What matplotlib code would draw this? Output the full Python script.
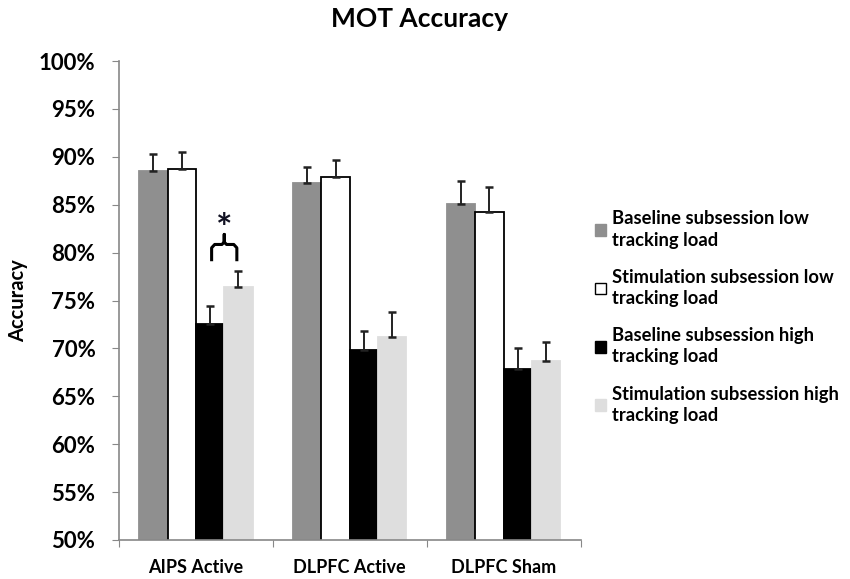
import numpy as np
import matplotlib
matplotlib.use("Agg")
import matplotlib.pyplot as plt
from matplotlib.patches import Patch
from matplotlib.ticker import PercentFormatter

plt.rcParams["font.family"] = ["Lato", "DejaVu Sans"]
plt.rcParams["font.weight"] = "bold"

groups = ["AIPS Active", "DLPFC Active", "DLPFC Sham"]
series = [
    "Baseline subsession low\ntracking load",
    "Stimulation subsession low\ntracking load",
    "Baseline subsession high\ntracking load",
    "Stimulation subsession high\ntracking load",
]
baseline_low = [88.5, 87.3, 85.1]
stim_low = [88.7, 87.9, 84.2]
baseline_high = [72.5, 69.8, 67.8]
stim_high = [76.4, 71.2, 68.7]
err_baseline_low = [1.8, 1.6, 2.4]
err_stim_low = [1.8, 1.8, 2.7]
err_baseline_high = [1.9, 2.0, 2.2]
err_stim_high = [1.7, 2.6, 2.0]

values = [baseline_low, stim_low, baseline_high, stim_high]
errors = [err_baseline_low, err_stim_low, err_baseline_high, err_stim_high]
colors = ["#8f8f8f", "#ffffff", "#000000", "#dedede"]
edges = ["#8f8f8f", "#000000", "#000000", "#dedede"]

fig = plt.figure(figsize=(8.5, 5.79), dpi=100)
ax = fig.add_axes([0.140, 0.0674, 0.543, 0.8272])

centers = np.arange(len(groups)) + 0.5
width = 0.184
offsets = (np.arange(4) - 1.5) * width

for i in range(4):
    ax.bar(centers + offsets[i], values[i], width, bottom=0,
           color=colors[i], edgecolor=edges[i], linewidth=1.3)
    ax.errorbar(centers + offsets[i], values[i], yerr=[np.zeros(3), errors[i]],
                fmt="none", ecolor="#222222", elinewidth=1.4, capsize=2.8,
                capthick=1.8)

# significance brace between AIPS high-load bars
x1 = centers[0] + offsets[2]
x2 = centers[0] + offsets[3]
xm = (x1 + x2) / 2
top = max(baseline_high[0] + err_baseline_high[0], stim_high[0] + err_stim_high[0])
y0 = top + 1.0
ax.plot([x1 + 0.01, x1 + 0.01, x1 + 0.03, xm - 0.015, xm, xm, xm,
         xm + 0.015, x2 - 0.03, x2 - 0.01, x2 - 0.01],
        [y0, y0 + 1.4, y0 + 1.75, y0 + 1.75, y0 + 2.0, y0 + 2.8, y0 + 2.0,
         y0 + 1.75, y0 + 1.75, y0 + 1.4, y0],
        color="black", lw=2.2, solid_capstyle="butt")
ax.text(xm, y0 + 3.3, "*", ha="center", va="center", fontsize=28,
        fontweight="bold", color="#111122")

ax.set_ylim(50, 100)
ax.set_xlim(0, 3)
ax.yaxis.set_major_formatter(PercentFormatter(decimals=0))
ax.set_yticks(np.arange(50, 101, 5))
ax.set_xticks([0, 1, 2, 3])
ax.set_xticklabels([])
ax.set_xticks(centers, minor=True)
ax.set_xticklabels(groups, minor=True, fontsize=13, fontweight="bold")
ax.tick_params(axis="x", which="minor", length=0, pad=14)
ax.tick_params(axis="x", which="major", length=5, color="#888888", direction="out")
ax.tick_params(axis="y", length=5, color="#888888", labelsize=16, pad=12)
for lbl in ax.get_yticklabels():
    lbl.set_fontweight("bold")

for s in ["top", "right"]:
    ax.spines[s].set_visible(False)
for s in ["left", "bottom"]:
    ax.spines[s].set_color("#888888")
    ax.spines[s].set_linewidth(1.2)

ax.set_ylabel("Accuracy", fontsize=14.5, fontweight="bold", labelpad=8)
fig.text(0.493, 0.968, "MOT Accuracy", ha="center", va="center",
         fontsize=19, fontweight="bold")

handles = [Patch(facecolor=c, edgecolor=("black" if c == "#ffffff" else c), linewidth=1)
           for c in colors]
leg = fig.legend(handles, series, loc="upper left", bbox_to_anchor=(0.681, 0.665),
                 frameon=False, handlelength=0.6, handleheight=0.6,
                 handletextpad=0.3, labelspacing=1.1,
                 prop={"weight": "bold", "size": 13.2})
for t in leg.get_texts():
    t.set_linespacing(1.3)

fig.savefig("out.png", dpi=100)
